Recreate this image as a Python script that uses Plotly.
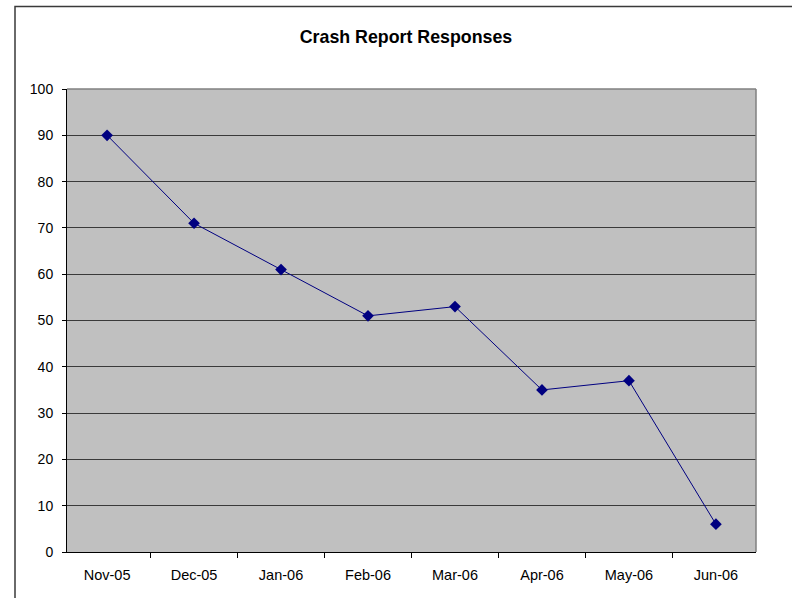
import plotly.graph_objects as go

months = ["Nov-05", "Dec-05", "Jan-06", "Feb-06", "Mar-06", "Apr-06", "May-06", "Jun-06"]
responses = [90, 71, 61, 51, 53, 35, 37, 6]
y_ticks = [0, 10, 20, 30, 40, 50, 60, 70, 80, 90, 100]

W, H = 792, 598
L, R, T, B = 67, 36, 89, 46
pw, ph = W - L - R, H - T - B

def px_x(p):
    return (p - L) / pw

def px_y(p):
    return (H - B - p) / ph

font = "Arial, Liberation Sans, sans-serif"

fig = go.Figure()
fig.add_trace(go.Scatter(
    x=months, y=responses, mode="lines+markers",
    line=dict(color="#000080", width=1),
    marker=dict(symbol="diamond", size=9, color="#000080"),
    showlegend=False, hoverinfo="x+y",
))

fig.update_layout(
    width=W, height=H,
    margin=dict(l=L, r=R, t=T, b=B, pad=0),
    paper_bgcolor="white",
    plot_bgcolor="#C0C0C0",
    font=dict(family=font, size=14, color="black"),
    title=dict(text="<b>Crash Report Responses</b>", font=dict(size=17.8, family=font, color="black"),
               x=406 / W, xanchor="center", xref="container",
               y=1 - 36.5 / H, yanchor="middle", yref="container"),
    xaxis=dict(type="category", tickson="boundaries", ticks="outside", ticklen=5, tickcolor="black",
               showline=True, linecolor="black", linewidth=1, showgrid=False, zeroline=False,
               tickfont=dict(size=14.5, family=font, color="black"), ticklabelstandoff=10),
    yaxis=dict(range=[0, 100], tickvals=y_ticks, ticks="outside", ticklen=4, tickcolor="black",
               showline=True, linecolor="black", linewidth=1, showgrid=True, gridcolor="#3a3a3a",
               gridwidth=1, zeroline=False, tickfont=dict(size=14, family=font, color="black"),
               ticklabelstandoff=6),
    shapes=[
        dict(type="line", xref="paper", yref="paper", x0=0, x1=1, y0=1, y1=1,
             line=dict(color="#808080", width=1.5)),
        dict(type="line", xref="paper", yref="paper", x0=1, x1=1, y0=0, y1=1,
             line=dict(color="#808080", width=1.5)),
        dict(type="rect", xref="paper", yref="paper", x0=px_x(15), x1=px_x(810),
             y0=px_y(620), y1=px_y(6.5), line=dict(color="#3a3a3a", width=1.5), layer="below"),
    ],
)

fig.write_html("out.html", config={"displayModeBar": False},
               post_script="document.body.style.margin='0';document.body.style.overflow='hidden';")
